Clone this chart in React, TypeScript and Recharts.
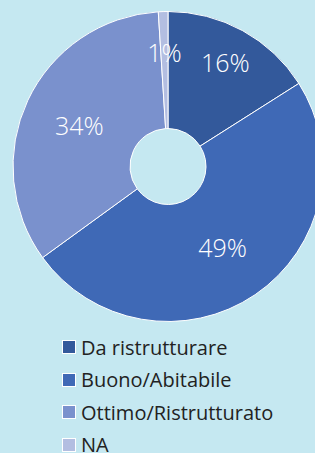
import { PieChart, Pie, Cell, Legend } from "recharts";

const categories = ["Da ristrutturare", "Buono/Abitabile", "Ottimo/Ristrutturato", "NA"];
const shares = [16, 49, 34, 1];
const colors = ["#33599b", "#3f69b6", "#7a91cd", "#b3bee1"];
// label distance from the centre, per slice (the source places them by hand)
const labelRadius = [119, 97, 98, 115];

const data = categories.map((name, i) => ({ name, value: shares[i] }));

const RAD = Math.PI / 180;

function renderLabel(props: any) {
  const { cx, cy, midAngle, index, value } = props;
  const r = labelRadius[index];
  const x = cx + r * Math.cos(-midAngle * RAD);
  const y = cy + r * Math.sin(-midAngle * RAD);
  return (
    <text
      x={x}
      y={y}
      fill="#ffffff"
      fontSize={25}
      fontWeight={300}
      fontFamily="'Open Sans', sans-serif"
      textAnchor="middle"
      dominantBaseline="central"
    >
      {`${value}%`}
    </text>
  );
}

function renderLegend() {
  return (
    <div style={{ fontFamily: "'Open Sans', sans-serif", fontSize: 20, color: "#222222" }}>
      {categories.map((c, i) => (
        <div key={c} style={{ display: "flex", alignItems: "center", height: 32.5 }}>
          <span
            style={{
              display: "inline-block",
              width: 12,
              height: 12,
              background: colors[i],
              border: "1px solid #ffffff",
              marginRight: 5,
              flexShrink: 0,
            }}
          />
          {c}
        </div>
      ))}
    </div>
  );
}

export default function App() {
  return (
    <div
      style={{
        position: "absolute",
        left: 0,
        top: 0,
        width: 315,
        height: 453,
        background: "#c5e8f1",
        overflow: "hidden",
      }}
    >
      <PieChart width={315} height={453} margin={{ top: 0, right: 0, bottom: 0, left: 0 }}>
        <Pie
          data={data}
          dataKey="value"
          nameKey="name"
          cx={168}
          cy={166.5}
          innerRadius={38}
          outerRadius={155}
          startAngle={90}
          endAngle={-270}
          stroke="#ffffff"
          strokeWidth={1}
          label={renderLabel}
          labelLine={false}
          isAnimationActive={false}
        >
          {data.map((d, i) => (
            <Cell key={d.name} fill={colors[i]} />
          ))}
        </Pie>
        <Legend
          content={renderLegend}
          wrapperStyle={{ position: "absolute", left: 62, top: 331, width: 250 }}
        />
      </PieChart>
    </div>
  );
}
